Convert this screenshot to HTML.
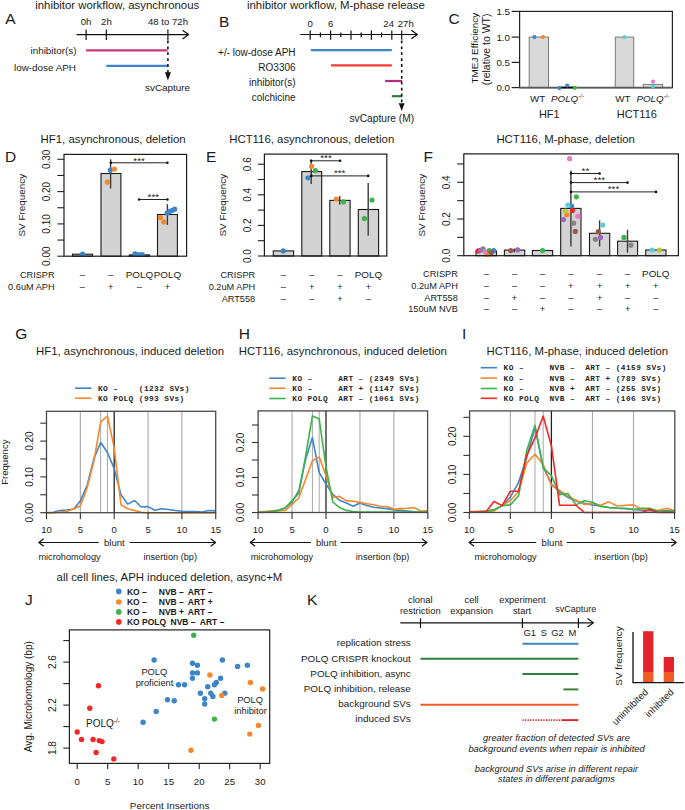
<!DOCTYPE html>
<html><head><meta charset="utf-8"><style>
html,body{margin:0;padding:0;background:#fff;}
svg{display:block;font-family:"Liberation Sans",sans-serif;}
</style></head><body>
<svg width="685" height="810" viewBox="0 0 685 810">
<rect width="685" height="810" fill="#fff"/>
<text x="5.2" y="23.8" font-size="15.5" fill="#1a1a1a">A</text>
<text x="35.2" y="8.8" font-size="11.4" fill="#1a1a1a">inhibitor workflow, asynchronous</text>
<line x1="76.5" y1="34.6" x2="188.2" y2="34.6" stroke="#111" stroke-width="1.2"/>
<polyline points="182.50,30.30 188.60,34.60 182.50,38.90" fill="none" stroke="#111" stroke-width="1.2" stroke-linejoin="round"/>
<line x1="86.1" y1="29.4" x2="86.1" y2="39.9" stroke="#111" stroke-width="1.2"/>
<line x1="106.3" y1="29.4" x2="106.3" y2="39.9" stroke="#111" stroke-width="1.2"/>
<line x1="167.9" y1="29.4" x2="167.9" y2="39.9" stroke="#111" stroke-width="1.2"/>
<text x="86.1" y="25.2" font-size="9.6" text-anchor="middle" fill="#1a1a1a">0h</text>
<text x="106.4" y="25.2" font-size="9.6" text-anchor="middle" fill="#1a1a1a">2h</text>
<text x="168" y="25.2" font-size="9.6" text-anchor="middle" fill="#1a1a1a">48 to 72h</text>
<line x1="86.1" y1="50.4" x2="167.6" y2="50.4" stroke="#c8387e" stroke-width="2.2"/>
<line x1="106.3" y1="65.8" x2="167.6" y2="65.8" stroke="#3d85c6" stroke-width="2.2"/>
<text x="76.6" y="53.5" font-size="9.9" text-anchor="end" fill="#1a1a1a">inhibitor(s)</text>
<text x="76.0" y="70.7" font-size="9.9" text-anchor="end" fill="#1a1a1a">low-dose APH</text>
<line x1="167.9" y1="40.5" x2="167.9" y2="73" stroke="#111" stroke-width="1.6" stroke-dasharray="2.8,3.1"/>
<polygon points="164.9,72.3 171,72.3 167.9,80.4" fill="#111"/>
<text x="167.6" y="91.2" font-size="9.9" text-anchor="middle" fill="#1a1a1a">svCapture</text>
<text x="219.0" y="26.7" font-size="15.5" fill="#1a1a1a">B</text>
<text x="247.0" y="8.8" font-size="11.4" fill="#1a1a1a">inhibitor workflow, M-phase release</text>
<line x1="300.3" y1="34.5" x2="417" y2="34.5" stroke="#111" stroke-width="1.2"/>
<polyline points="411.30,30.20 417.40,34.50 411.30,38.80" fill="none" stroke="#111" stroke-width="1.2" stroke-linejoin="round"/>
<line x1="310.2" y1="30.6" x2="310.2" y2="39.7" stroke="#111" stroke-width="1.2"/>
<line x1="330.59999999999997" y1="30.6" x2="330.59999999999997" y2="39.7" stroke="#111" stroke-width="1.2"/>
<line x1="351.0" y1="30.6" x2="351.0" y2="39.7" stroke="#111" stroke-width="1.2"/>
<line x1="371.4" y1="30.6" x2="371.4" y2="39.7" stroke="#111" stroke-width="1.2"/>
<line x1="391.79999999999995" y1="30.6" x2="391.79999999999995" y2="39.7" stroke="#111" stroke-width="1.2"/>
<line x1="320.4" y1="32.5" x2="320.4" y2="37.2" stroke="#111" stroke-width="1.2"/>
<line x1="340.79999999999995" y1="32.5" x2="340.79999999999995" y2="37.2" stroke="#111" stroke-width="1.2"/>
<line x1="361.2" y1="32.5" x2="361.2" y2="37.2" stroke="#111" stroke-width="1.2"/>
<line x1="381.59999999999997" y1="32.5" x2="381.59999999999997" y2="37.2" stroke="#111" stroke-width="1.2"/>
<line x1="401.7" y1="30.6" x2="401.7" y2="39.7" stroke="#111" stroke-width="1.2"/>
<text x="310.2" y="26.9" font-size="9.6" text-anchor="middle" fill="#1a1a1a">0</text>
<text x="330.7" y="26.9" font-size="9.6" text-anchor="middle" fill="#1a1a1a">6</text>
<text x="388.7" y="26.9" font-size="9.6" text-anchor="middle" fill="#1a1a1a">24</text>
<text x="405.8" y="26.9" font-size="9.6" text-anchor="middle" fill="#1a1a1a">27h</text>
<line x1="310.8" y1="50.1" x2="391.8" y2="50.1" stroke="#3d85c6" stroke-width="2.2"/>
<line x1="331" y1="65.3" x2="391.8" y2="65.3" stroke="#f83a32" stroke-width="2.2"/>
<line x1="385.1" y1="81" x2="402.2" y2="81" stroke="#b0307a" stroke-width="2.2"/>
<line x1="391.8" y1="96.2" x2="402.2" y2="96.2" stroke="#2e7d3a" stroke-width="2.2"/>
<text x="295.6" y="56.2" font-size="10.0" text-anchor="end" fill="#1a1a1a">+/- low-dose APH</text>
<text x="295.6" y="71.4" font-size="10.0" text-anchor="end" fill="#1a1a1a">RO3306</text>
<text x="295.6" y="86.2" font-size="10.0" text-anchor="end" fill="#1a1a1a">inhibitor(s)</text>
<text x="295.6" y="101.0" font-size="10.0" text-anchor="end" fill="#1a1a1a">colchicine</text>
<line x1="401.7" y1="40.5" x2="401.7" y2="104" stroke="#111" stroke-width="1.6" stroke-dasharray="2.8,3.1"/>
<polygon points="398.8,103.3 404.6,103.3 401.7,111" fill="#111"/>
<text x="381.8" y="122.2" font-size="10.2" text-anchor="middle" fill="#1a1a1a">svCapture (M)</text>
<text x="448.4" y="24.4" font-size="15.5" fill="#1a1a1a">C</text>
<rect x="519.6" y="11.4" width="152.8" height="76.2" fill="none" stroke="#222" stroke-width="1.2"/>
<line x1="511.7" y1="11.4" x2="519.6" y2="11.4" stroke="#222" stroke-width="1.2"/>
<text x="510.0" y="15.2" font-size="9.8" text-anchor="end" fill="#1a1a1a">1.5</text>
<line x1="511.7" y1="37.1" x2="519.6" y2="37.1" stroke="#222" stroke-width="1.2"/>
<text x="510.0" y="40.9" font-size="9.8" text-anchor="end" fill="#1a1a1a">1.0</text>
<line x1="511.7" y1="62.4" x2="519.6" y2="62.4" stroke="#222" stroke-width="1.2"/>
<text x="510.0" y="66.2" font-size="9.8" text-anchor="end" fill="#1a1a1a">0.5</text>
<line x1="511.7" y1="87.6" x2="519.6" y2="87.6" stroke="#222" stroke-width="1.2"/>
<text x="510.0" y="91.39999999999999" font-size="9.8" text-anchor="end" fill="#1a1a1a">0.0</text>
<text x="477.7" y="48.1" font-size="9.9" text-anchor="middle" fill="#1a1a1a" transform="rotate(-90 477.7 48.1)">TMEJ Efficiency</text>
<text x="490.3" y="49.4" font-size="10.5" text-anchor="middle" fill="#1a1a1a" transform="rotate(-90 490.3 49.4)">(relative to WT)</text>
<rect x="529.2" y="37.1" width="19.299999999999955" height="50.49999999999999" fill="#d9d9d9" stroke="#7a7a7a" stroke-width="1"/>
<rect x="615.3" y="37.1" width="18.40000000000009" height="50.49999999999999" fill="#d9d9d9" stroke="#7a7a7a" stroke-width="1"/>
<rect x="643.3" y="84.4" width="19.300000000000068" height="3.1999999999999886" fill="#d9d9d9" stroke="#7a7a7a" stroke-width="1"/>
<line x1="519.6" y1="87.6" x2="672.4" y2="87.6" stroke="#5a5a5a" stroke-width="1.9"/>
<line x1="559.5" y1="87.5" x2="575" y2="87.5" stroke="#000" stroke-width="1.6"/>
<circle cx="534.5" cy="37.1" r="2.1" fill="#3d85c6"/>
<circle cx="542.9" cy="37.1" r="2.1" fill="#f5882c"/>
<circle cx="559.5" cy="88.1" r="2.1" fill="#3d85c6"/>
<circle cx="567.2" cy="85.5" r="2.1" fill="#3d85c6"/>
<circle cx="574.8" cy="87.8" r="2.1" fill="#3bb44a"/>
<circle cx="624.6" cy="37.1" r="2.1" fill="#5ccfd6"/>
<circle cx="653" cy="81.6" r="2.1" fill="#e97cc6"/>
<circle cx="653" cy="86.5" r="2.1" fill="#5ccfd6"/>
<text x="537.6" y="102.2" font-size="9.8" text-anchor="middle" fill="#1a1a1a">WT</text>
<text x="551.0" y="102.2" font-size="9.8" font-style="italic" fill="#1a1a1a">POLQ<tspan font-size="6" dy="-4">-/-</tspan></text>
<text x="549.3" y="117.6" font-size="11" text-anchor="middle" fill="#1a1a1a">HF1</text>
<text x="622.8" y="102.2" font-size="9.8" text-anchor="middle" fill="#1a1a1a">WT</text>
<text x="636.4" y="102.2" font-size="9.8" font-style="italic" fill="#1a1a1a">POLQ<tspan font-size="6" dy="-4">-/-</tspan></text>
<text x="636.8" y="117.6" font-size="11" text-anchor="middle" fill="#1a1a1a">HCT116</text>
<text x="5.0" y="161.6" font-size="15.5" fill="#1a1a1a">D</text>
<text x="40.6" y="142.6" font-size="11.4" fill="#1a1a1a">HF1, asynchronous, deletion</text>
<line x1="57.4" y1="256.2" x2="64" y2="256.2" stroke="#222" stroke-width="1.1"/>
<text x="50.1" y="256.2" font-size="10.0" text-anchor="middle" fill="#1a1a1a" transform="rotate(-90 50.1 256.2)">0.00</text>
<line x1="57.4" y1="240.04999999999998" x2="64" y2="240.04999999999998" stroke="#222" stroke-width="1.1"/>
<line x1="57.4" y1="223.89999999999998" x2="64" y2="223.89999999999998" stroke="#222" stroke-width="1.1"/>
<text x="50.1" y="223.89999999999998" font-size="10.0" text-anchor="middle" fill="#1a1a1a" transform="rotate(-90 50.1 223.89999999999998)">0.10</text>
<line x1="57.4" y1="207.75" x2="64" y2="207.75" stroke="#222" stroke-width="1.1"/>
<line x1="57.4" y1="191.59999999999997" x2="64" y2="191.59999999999997" stroke="#222" stroke-width="1.1"/>
<text x="50.1" y="191.59999999999997" font-size="10.0" text-anchor="middle" fill="#1a1a1a" transform="rotate(-90 50.1 191.59999999999997)">0.20</text>
<line x1="57.4" y1="175.45" x2="64" y2="175.45" stroke="#222" stroke-width="1.1"/>
<line x1="57.4" y1="159.3" x2="64" y2="159.3" stroke="#222" stroke-width="1.1"/>
<text x="50.1" y="159.3" font-size="10.0" text-anchor="middle" fill="#1a1a1a" transform="rotate(-90 50.1 159.3)">0.30</text>
<text x="24.900000000000002" y="205.2" font-size="9.9" text-anchor="middle" fill="#1a1a1a" transform="rotate(-90 24.900000000000002 205.2)">SV Frequency</text>
<rect x="72.5" y="254.2" width="20.0" height="2.0" fill="#d3d3d3" stroke="#1a1a1a" stroke-width="1.1"/>
<rect x="101.0" y="173.5" width="19.900000000000006" height="82.69999999999999" fill="#d3d3d3" stroke="#1a1a1a" stroke-width="1.1"/>
<rect x="129.3" y="254.9" width="20.299999999999983" height="1.299999999999983" fill="#d3d3d3" stroke="#1a1a1a" stroke-width="1.1"/>
<rect x="157.5" y="214.5" width="19.900000000000006" height="41.69999999999999" fill="#d3d3d3" stroke="#1a1a1a" stroke-width="1.1"/>
<line x1="110.6" y1="159.3" x2="110.6" y2="188.5" stroke="#3a3a3a" stroke-width="1.4"/>
<line x1="167.4" y1="204.1" x2="167.4" y2="224.9" stroke="#3a3a3a" stroke-width="1.4"/>
<circle cx="82.6" cy="254.2" r="2.6" fill="#3d85c6"/>
<circle cx="107.4" cy="182.2" r="2.6" fill="#f5882c"/>
<circle cx="110.3" cy="170.1" r="2.6" fill="#3d85c6"/>
<circle cx="114.4" cy="169.1" r="2.6" fill="#f5882c"/>
<circle cx="135" cy="253.8" r="2.6" fill="#3d85c6"/>
<circle cx="138.7" cy="254.5" r="2.6" fill="#3d85c6"/>
<circle cx="142.3" cy="254.5" r="2.6" fill="#3d85c6"/>
<circle cx="160.3" cy="217.6" r="2.6" fill="#f5882c"/>
<circle cx="163.8" cy="221.9" r="2.6" fill="#f5882c"/>
<circle cx="167.2" cy="212.9" r="2.6" fill="#3d85c6"/>
<circle cx="169.8" cy="211.4" r="2.6" fill="#3d85c6"/>
<circle cx="172.3" cy="210.3" r="2.6" fill="#3d85c6"/>
<circle cx="174.7" cy="209.2" r="2.6" fill="#3d85c6"/>
<line x1="110.9" y1="162.8" x2="167.4" y2="162.8" stroke="#222" stroke-width="1"/>
<circle cx="110.9" cy="162.8" r="1.3" fill="#111"/>
<circle cx="167.4" cy="162.8" r="1.3" fill="#111"/>
<text x="139.1" y="163.5" font-size="9.8" text-anchor="middle" fill="#1a1a1a">***</text>
<line x1="139.1" y1="199.5" x2="167.4" y2="199.5" stroke="#222" stroke-width="1"/>
<circle cx="139.1" cy="199.5" r="1.3" fill="#111"/>
<circle cx="167.4" cy="199.5" r="1.3" fill="#111"/>
<text x="153.3" y="200.0" font-size="9.8" text-anchor="middle" fill="#1a1a1a">***</text>
<rect x="64" y="154.4" width="122.6" height="101.79999999999998" fill="none" stroke="#1a1a1a" stroke-width="1.2"/>
<text x="54.6" y="278.09999999999997" font-size="9.2" text-anchor="end" fill="#1a1a1a">CRISPR</text>
<text x="82.4" y="278.09999999999997" font-size="9.2" text-anchor="middle" fill="#1a1a1a">–</text>
<text x="110.8" y="278.09999999999997" font-size="9.2" text-anchor="middle" fill="#1a1a1a">–</text>
<text x="139.4" y="278.09999999999997" font-size="9.9" text-anchor="middle" fill="#1a1a1a">POLQ</text>
<text x="167.4" y="278.09999999999997" font-size="9.9" text-anchor="middle" fill="#1a1a1a">POLQ</text>
<text x="54.6" y="289.5" font-size="9.2" text-anchor="end" fill="#1a1a1a">0.6uM APH</text>
<text x="82.4" y="289.5" font-size="9.2" text-anchor="middle" fill="#1a1a1a">–</text>
<text x="110.8" y="289.5" font-size="9.2" text-anchor="middle" fill="#1a1a1a">+</text>
<text x="139.4" y="289.5" font-size="9.2" text-anchor="middle" fill="#1a1a1a">–</text>
<text x="167.4" y="289.5" font-size="9.2" text-anchor="middle" fill="#1a1a1a">+</text>
<text x="205.9" y="161.6" font-size="15.5" fill="#1a1a1a">E</text>
<text x="229.2" y="142.6" font-size="11.4" fill="#1a1a1a">HCT116, asynchronous, deletion</text>
<line x1="257.79999999999995" y1="256.0" x2="264.4" y2="256.0" stroke="#222" stroke-width="1.1"/>
<text x="251.2" y="256.0" font-size="10.0" text-anchor="middle" fill="#1a1a1a" transform="rotate(-90 251.2 256.0)">0.0</text>
<line x1="257.79999999999995" y1="240.7" x2="264.4" y2="240.7" stroke="#222" stroke-width="1.1"/>
<line x1="257.79999999999995" y1="225.4" x2="264.4" y2="225.4" stroke="#222" stroke-width="1.1"/>
<text x="251.2" y="225.4" font-size="10.0" text-anchor="middle" fill="#1a1a1a" transform="rotate(-90 251.2 225.4)">0.2</text>
<line x1="257.79999999999995" y1="210.1" x2="264.4" y2="210.1" stroke="#222" stroke-width="1.1"/>
<line x1="257.79999999999995" y1="194.8" x2="264.4" y2="194.8" stroke="#222" stroke-width="1.1"/>
<text x="251.2" y="194.8" font-size="10.0" text-anchor="middle" fill="#1a1a1a" transform="rotate(-90 251.2 194.8)">0.4</text>
<line x1="257.79999999999995" y1="179.5" x2="264.4" y2="179.5" stroke="#222" stroke-width="1.1"/>
<line x1="257.79999999999995" y1="164.2" x2="264.4" y2="164.2" stroke="#222" stroke-width="1.1"/>
<text x="251.2" y="164.2" font-size="10.0" text-anchor="middle" fill="#1a1a1a" transform="rotate(-90 251.2 164.2)">0.6</text>
<text x="225.70000000000002" y="205.2" font-size="9.9" text-anchor="middle" fill="#1a1a1a" transform="rotate(-90 225.70000000000002 205.2)">SV Frequency</text>
<rect x="273.3" y="250.9" width="20.30000000000001" height="5.099999999999994" fill="#d3d3d3" stroke="#1a1a1a" stroke-width="1.1"/>
<rect x="301.8" y="171.6" width="19.899999999999977" height="84.4" fill="#d3d3d3" stroke="#1a1a1a" stroke-width="1.1"/>
<rect x="329.8" y="200.4" width="20.30000000000001" height="55.599999999999994" fill="#d3d3d3" stroke="#1a1a1a" stroke-width="1.1"/>
<rect x="358.3" y="209.5" width="20.30000000000001" height="46.5" fill="#d3d3d3" stroke="#1a1a1a" stroke-width="1.1"/>
<line x1="311.2" y1="159.8" x2="311.2" y2="183.9" stroke="#3a3a3a" stroke-width="1.4"/>
<line x1="339.7" y1="195.9" x2="339.7" y2="204.8" stroke="#3a3a3a" stroke-width="1.4"/>
<line x1="368.2" y1="183" x2="368.2" y2="235.7" stroke="#3a3a3a" stroke-width="1.4"/>
<circle cx="283.2" cy="250.9" r="2.6" fill="#3d85c6"/>
<circle cx="311.6" cy="166.3" r="2.6" fill="#f5882c"/>
<circle cx="315.4" cy="170.6" r="2.6" fill="#3bb44a"/>
<circle cx="308" cy="177.8" r="2.6" fill="#3d85c6"/>
<circle cx="336.3" cy="199.1" r="2.6" fill="#f5882c"/>
<circle cx="343.5" cy="201.9" r="2.6" fill="#3bb44a"/>
<circle cx="372" cy="200" r="2.6" fill="#3bb44a"/>
<circle cx="364.4" cy="218.6" r="2.6" fill="#3bb44a"/>
<line x1="311.2" y1="160.8" x2="340.1" y2="160.8" stroke="#222" stroke-width="1"/>
<circle cx="311.2" cy="160.8" r="1.3" fill="#111"/>
<circle cx="340.1" cy="160.8" r="1.3" fill="#111"/>
<text x="326" y="161.0" font-size="9.8" text-anchor="middle" fill="#1a1a1a">***</text>
<line x1="311.2" y1="175.9" x2="368.2" y2="175.9" stroke="#222" stroke-width="1"/>
<circle cx="311.2" cy="175.9" r="1.3" fill="#111"/>
<circle cx="368.2" cy="175.9" r="1.3" fill="#111"/>
<text x="339.7" y="176.2" font-size="9.8" text-anchor="middle" fill="#1a1a1a">***</text>
<rect x="264.4" y="154.1" width="122.40000000000003" height="101.9" fill="none" stroke="#1a1a1a" stroke-width="1.2"/>
<text x="255.2" y="277.9" font-size="9.2" text-anchor="end" fill="#1a1a1a">CRISPR</text>
<text x="283.4" y="277.9" font-size="9.2" text-anchor="middle" fill="#1a1a1a">–</text>
<text x="311.8" y="277.9" font-size="9.2" text-anchor="middle" fill="#1a1a1a">–</text>
<text x="340" y="277.9" font-size="9.2" text-anchor="middle" fill="#1a1a1a">–</text>
<text x="368.5" y="277.9" font-size="9.9" text-anchor="middle" fill="#1a1a1a">POLQ</text>
<text x="255.2" y="290.0" font-size="9.2" text-anchor="end" fill="#1a1a1a">0.2uM APH</text>
<text x="283.4" y="290.0" font-size="9.2" text-anchor="middle" fill="#1a1a1a">–</text>
<text x="311.8" y="290.0" font-size="9.2" text-anchor="middle" fill="#1a1a1a">+</text>
<text x="340" y="290.0" font-size="9.2" text-anchor="middle" fill="#1a1a1a">+</text>
<text x="368.5" y="290.0" font-size="9.2" text-anchor="middle" fill="#1a1a1a">+</text>
<text x="255.2" y="301.79999999999995" font-size="9.2" text-anchor="end" fill="#1a1a1a">ART558</text>
<text x="283.4" y="301.79999999999995" font-size="9.2" text-anchor="middle" fill="#1a1a1a">–</text>
<text x="311.8" y="301.79999999999995" font-size="9.2" text-anchor="middle" fill="#1a1a1a">–</text>
<text x="340" y="301.79999999999995" font-size="9.2" text-anchor="middle" fill="#1a1a1a">+</text>
<text x="368.5" y="301.79999999999995" font-size="9.2" text-anchor="middle" fill="#1a1a1a">–</text>
<text x="423.6" y="161.6" font-size="15.5" fill="#1a1a1a">F</text>
<text x="496.4" y="142.6" font-size="11.4" fill="#1a1a1a">HCT116, M-phase, deletion</text>
<line x1="457.2" y1="255.7" x2="463.8" y2="255.7" stroke="#222" stroke-width="1.1"/>
<text x="450.2" y="255.7" font-size="10.0" text-anchor="middle" fill="#1a1a1a" transform="rotate(-90 450.2 255.7)">0.0</text>
<line x1="457.2" y1="237.35" x2="463.8" y2="237.35" stroke="#222" stroke-width="1.1"/>
<line x1="457.2" y1="219.0" x2="463.8" y2="219.0" stroke="#222" stroke-width="1.1"/>
<text x="450.2" y="219.0" font-size="10.0" text-anchor="middle" fill="#1a1a1a" transform="rotate(-90 450.2 219.0)">0.2</text>
<line x1="457.2" y1="200.64999999999998" x2="463.8" y2="200.64999999999998" stroke="#222" stroke-width="1.1"/>
<line x1="457.2" y1="182.29999999999998" x2="463.8" y2="182.29999999999998" stroke="#222" stroke-width="1.1"/>
<text x="450.2" y="182.29999999999998" font-size="10.0" text-anchor="middle" fill="#1a1a1a" transform="rotate(-90 450.2 182.29999999999998)">0.4</text>
<line x1="457.2" y1="163.95" x2="463.8" y2="163.95" stroke="#222" stroke-width="1.1"/>
<text x="424.7" y="205.2" font-size="9.9" text-anchor="middle" fill="#1a1a1a" transform="rotate(-90 424.7 205.2)">SV Frequency</text>
<rect x="476" y="251" width="20.5" height="4.699999999999989" fill="#d3d3d3" stroke="#1a1a1a" stroke-width="1.1"/>
<rect x="504.4" y="250.1" width="20.300000000000068" height="5.599999999999994" fill="#d3d3d3" stroke="#1a1a1a" stroke-width="1.1"/>
<rect x="532.4" y="250.5" width="20.200000000000045" height="5.199999999999989" fill="#d3d3d3" stroke="#1a1a1a" stroke-width="1.1"/>
<rect x="560.7" y="208.4" width="20.299999999999955" height="47.29999999999998" fill="#d3d3d3" stroke="#1a1a1a" stroke-width="1.1"/>
<rect x="589.5" y="233.3" width="20.200000000000045" height="22.399999999999977" fill="#d3d3d3" stroke="#1a1a1a" stroke-width="1.1"/>
<rect x="617.6" y="241.2" width="20.0" height="14.5" fill="#d3d3d3" stroke="#1a1a1a" stroke-width="1.1"/>
<rect x="645.7" y="250" width="20.299999999999955" height="5.699999999999989" fill="#d3d3d3" stroke="#1a1a1a" stroke-width="1.1"/>
<line x1="570.9" y1="170.5" x2="570.9" y2="246.4" stroke="#3a3a3a" stroke-width="1.4"/>
<line x1="599.6" y1="220.3" x2="599.6" y2="246.5" stroke="#3a3a3a" stroke-width="1.4"/>
<line x1="627.5" y1="229.8" x2="627.5" y2="252.6" stroke="#3a3a3a" stroke-width="1.4"/>
<line x1="514.3" y1="248.5" x2="514.3" y2="252.5" stroke="#3a3a3a" stroke-width="1.4"/>
<circle cx="478.1" cy="250.9" r="2.6" fill="#f42626"/>
<circle cx="486.9" cy="254.4" r="2.6" fill="#f5882c"/>
<circle cx="480.3" cy="250.3" r="2.6" fill="#a162c4"/>
<circle cx="483" cy="248.8" r="2.6" fill="#858585"/>
<circle cx="485.1" cy="251.6" r="2.6" fill="#e97cc6"/>
<circle cx="489.3" cy="250.5" r="2.6" fill="#3bb44a"/>
<circle cx="493.7" cy="250.7" r="2.6" fill="#3d85c6"/>
<circle cx="491.3" cy="252.5" r="2.6" fill="#9a5a4a"/>
<circle cx="510.7" cy="250.6" r="2.6" fill="#9a5a4a"/>
<circle cx="517.7" cy="249.8" r="2.6" fill="#a162c4"/>
<circle cx="542.6" cy="250.6" r="2.6" fill="#3bb44a"/>
<circle cx="569.6" cy="158.7" r="2.6" fill="#e97cc6"/>
<circle cx="576.4" cy="196.8" r="2.6" fill="#3bb44a"/>
<circle cx="571.7" cy="206.1" r="2.6" fill="#3d85c6"/>
<circle cx="567.9" cy="205.2" r="2.6" fill="#5ccfd6"/>
<circle cx="572.5" cy="210.5" r="2.6" fill="#f42626"/>
<circle cx="566.8" cy="214.7" r="2.6" fill="#f5882c"/>
<circle cx="565.4" cy="211" r="2.6" fill="#bcc832"/>
<circle cx="577.8" cy="216.2" r="2.6" fill="#e97cc6"/>
<circle cx="563.5" cy="219.6" r="2.6" fill="#a162c4"/>
<circle cx="573.6" cy="223.2" r="2.6" fill="#858585"/>
<circle cx="575.3" cy="231.4" r="2.6" fill="#9a5a4a"/>
<circle cx="602.8" cy="225.1" r="2.6" fill="#5ccfd6"/>
<circle cx="598.3" cy="231.7" r="2.6" fill="#9a5a4a"/>
<circle cx="600.5" cy="237.4" r="2.6" fill="#a162c4"/>
<circle cx="595.4" cy="239.3" r="2.6" fill="#858585"/>
<circle cx="623.9" cy="237.4" r="2.6" fill="#3bb44a"/>
<circle cx="630.9" cy="245.2" r="2.6" fill="#858585"/>
<circle cx="652.2" cy="250" r="2.6" fill="#5ccfd6"/>
<circle cx="659.4" cy="250" r="2.6" fill="#bcc832"/>
<line x1="571" y1="173.5" x2="599.6" y2="173.5" stroke="#222" stroke-width="1"/>
<circle cx="571" cy="173.5" r="1.3" fill="#111"/>
<circle cx="599.6" cy="173.5" r="1.3" fill="#111"/>
<text x="585.4" y="173.7" font-size="9.8" text-anchor="middle" fill="#1a1a1a">**</text>
<line x1="571" y1="182.6" x2="627.5" y2="182.6" stroke="#222" stroke-width="1"/>
<circle cx="571" cy="182.6" r="1.3" fill="#111"/>
<circle cx="627.5" cy="182.6" r="1.3" fill="#111"/>
<text x="599.3" y="183.2" font-size="9.8" text-anchor="middle" fill="#1a1a1a">***</text>
<line x1="571" y1="191.9" x2="656" y2="191.9" stroke="#222" stroke-width="1"/>
<circle cx="571" cy="191.9" r="1.3" fill="#111"/>
<circle cx="656" cy="191.9" r="1.3" fill="#111"/>
<text x="613.5" y="192.29999999999998" font-size="9.8" text-anchor="middle" fill="#1a1a1a">***</text>
<rect x="463.8" y="153.9" width="214.59999999999997" height="101.79999999999998" fill="none" stroke="#1a1a1a" stroke-width="1.2"/>
<text x="457.8" y="277.09999999999997" font-size="9.2" text-anchor="end" fill="#1a1a1a">CRISPR</text>
<text x="486.3" y="277.09999999999997" font-size="9.2" text-anchor="middle" fill="#1a1a1a">–</text>
<text x="514.5" y="277.09999999999997" font-size="9.2" text-anchor="middle" fill="#1a1a1a">–</text>
<text x="542.5" y="277.09999999999997" font-size="9.2" text-anchor="middle" fill="#1a1a1a">–</text>
<text x="570.8" y="277.09999999999997" font-size="9.2" text-anchor="middle" fill="#1a1a1a">–</text>
<text x="599.6" y="277.09999999999997" font-size="9.2" text-anchor="middle" fill="#1a1a1a">–</text>
<text x="627.6" y="277.09999999999997" font-size="9.2" text-anchor="middle" fill="#1a1a1a">–</text>
<text x="655.8" y="277.09999999999997" font-size="9.9" text-anchor="middle" fill="#1a1a1a">POLQ</text>
<text x="457.8" y="288.79999999999995" font-size="9.2" text-anchor="end" fill="#1a1a1a">0.2uM APH</text>
<text x="486.3" y="288.79999999999995" font-size="9.2" text-anchor="middle" fill="#1a1a1a">–</text>
<text x="514.5" y="288.79999999999995" font-size="9.2" text-anchor="middle" fill="#1a1a1a">–</text>
<text x="542.5" y="288.79999999999995" font-size="9.2" text-anchor="middle" fill="#1a1a1a">–</text>
<text x="570.8" y="288.79999999999995" font-size="9.2" text-anchor="middle" fill="#1a1a1a">+</text>
<text x="599.6" y="288.79999999999995" font-size="9.2" text-anchor="middle" fill="#1a1a1a">+</text>
<text x="627.6" y="288.79999999999995" font-size="9.2" text-anchor="middle" fill="#1a1a1a">+</text>
<text x="655.8" y="288.79999999999995" font-size="9.2" text-anchor="middle" fill="#1a1a1a">+</text>
<text x="457.8" y="300.7" font-size="9.2" text-anchor="end" fill="#1a1a1a">ART558</text>
<text x="486.3" y="300.7" font-size="9.2" text-anchor="middle" fill="#1a1a1a">–</text>
<text x="514.5" y="300.7" font-size="9.2" text-anchor="middle" fill="#1a1a1a">+</text>
<text x="542.5" y="300.7" font-size="9.2" text-anchor="middle" fill="#1a1a1a">–</text>
<text x="570.8" y="300.7" font-size="9.2" text-anchor="middle" fill="#1a1a1a">–</text>
<text x="599.6" y="300.7" font-size="9.2" text-anchor="middle" fill="#1a1a1a">+</text>
<text x="627.6" y="300.7" font-size="9.2" text-anchor="middle" fill="#1a1a1a">–</text>
<text x="655.8" y="300.7" font-size="9.2" text-anchor="middle" fill="#1a1a1a">–</text>
<text x="457.8" y="312.4" font-size="9.2" text-anchor="end" fill="#1a1a1a">150uM NVB</text>
<text x="486.3" y="312.4" font-size="9.2" text-anchor="middle" fill="#1a1a1a">–</text>
<text x="514.5" y="312.4" font-size="9.2" text-anchor="middle" fill="#1a1a1a">–</text>
<text x="542.5" y="312.4" font-size="9.2" text-anchor="middle" fill="#1a1a1a">+</text>
<text x="570.8" y="312.4" font-size="9.2" text-anchor="middle" fill="#1a1a1a">–</text>
<text x="599.6" y="312.4" font-size="9.2" text-anchor="middle" fill="#1a1a1a">–</text>
<text x="627.6" y="312.4" font-size="9.2" text-anchor="middle" fill="#1a1a1a">+</text>
<text x="655.8" y="312.4" font-size="9.2" text-anchor="middle" fill="#1a1a1a">–</text>
<text x="15.3" y="338.7" font-size="15.5" fill="#1a1a1a">G</text>
<text x="36.0" y="354.8" font-size="11.4" fill="#1a1a1a">HF1, asynchronous, induced deletion</text>
<line x1="80.35000000000001" y1="411.3" x2="80.35000000000001" y2="512.7" stroke="#a8a8a8" stroke-width="1.1"/>
<line x1="100.66" y1="411.3" x2="100.66" y2="512.7" stroke="#a8a8a8" stroke-width="1.0"/>
<line x1="107.43" y1="411.3" x2="107.43" y2="512.7" stroke="#a8a8a8" stroke-width="1.0"/>
<line x1="148.05" y1="411.3" x2="148.05" y2="512.7" stroke="#a8a8a8" stroke-width="1.1"/>
<line x1="181.89999999999998" y1="411.3" x2="181.89999999999998" y2="512.7" stroke="#a8a8a8" stroke-width="1.1"/>
<line x1="114.2" y1="411.3" x2="114.2" y2="512.7" stroke="#222" stroke-width="1.3"/>
<polyline points="46.50,512.70 53.27,512.20 60.04,510.44 66.81,509.94 73.58,509.23 80.35,500.89 87.12,485.49 93.89,458.64 100.66,442.53 107.43,452.56 114.20,468.67 120.97,494.80 127.74,504.11 134.51,500.53 141.28,506.97 148.05,506.61 154.82,510.19 161.59,508.76 168.36,509.48 175.13,510.55 181.90,511.27 188.67,511.63 195.44,511.63 202.21,511.98 208.98,510.55 215.75,510.91" fill="none" stroke="#3d85c6" stroke-width="1.6" stroke-linejoin="round"/>
<polyline points="46.50,512.70 53.27,512.70 60.04,512.16 66.81,511.63 73.58,508.76 80.35,505.90 87.12,488.00 93.89,461.15 100.66,421.77 107.43,416.04 114.20,447.90 120.97,504.82 127.74,508.76 134.51,510.55 141.28,512.34 148.05,512.70 154.82,512.70 161.59,512.70 168.36,512.70 175.13,512.70 181.90,512.70 188.67,512.70 195.44,512.70 202.21,512.70 208.98,512.70 215.75,512.70" fill="none" stroke="#f5882c" stroke-width="1.6" stroke-linejoin="round"/>
<rect x="46.5" y="411.3" width="169.2" height="101.40000000000003" fill="none" stroke="#4a4a4a" stroke-width="1.3"/>
<line x1="40.3" y1="512.7" x2="46.5" y2="512.7" stroke="#333" stroke-width="1.1"/>
<line x1="40.3" y1="494.80000000000007" x2="46.5" y2="494.80000000000007" stroke="#333" stroke-width="1.1"/>
<line x1="40.3" y1="476.90000000000003" x2="46.5" y2="476.90000000000003" stroke="#333" stroke-width="1.1"/>
<line x1="40.3" y1="459.00000000000006" x2="46.5" y2="459.00000000000006" stroke="#333" stroke-width="1.1"/>
<line x1="40.3" y1="441.1" x2="46.5" y2="441.1" stroke="#333" stroke-width="1.1"/>
<line x1="40.3" y1="423.20000000000005" x2="46.5" y2="423.20000000000005" stroke="#333" stroke-width="1.1"/>
<text x="32.6" y="512.7" font-size="10.0" text-anchor="middle" fill="#1a1a1a" transform="rotate(-90 32.6 512.7)">0.00</text>
<text x="32.6" y="476.90000000000003" font-size="10.0" text-anchor="middle" fill="#1a1a1a" transform="rotate(-90 32.6 476.90000000000003)">0.10</text>
<text x="32.6" y="441.1" font-size="10.0" text-anchor="middle" fill="#1a1a1a" transform="rotate(-90 32.6 441.1)">0.20</text>
<line x1="46.500000000000014" y1="512.7" x2="46.500000000000014" y2="519.3000000000001" stroke="#333" stroke-width="1.1"/>
<text x="46.500000000000014" y="532.7" font-size="9.6" text-anchor="middle" fill="#1a1a1a">10</text>
<line x1="80.35000000000001" y1="512.7" x2="80.35000000000001" y2="519.3000000000001" stroke="#333" stroke-width="1.1"/>
<text x="80.35000000000001" y="532.7" font-size="9.6" text-anchor="middle" fill="#1a1a1a">5</text>
<line x1="114.2" y1="512.7" x2="114.2" y2="519.3000000000001" stroke="#333" stroke-width="1.1"/>
<text x="114.2" y="532.7" font-size="9.6" text-anchor="middle" fill="#1a1a1a">0</text>
<line x1="148.05" y1="512.7" x2="148.05" y2="519.3000000000001" stroke="#333" stroke-width="1.1"/>
<text x="148.05" y="532.7" font-size="9.6" text-anchor="middle" fill="#1a1a1a">5</text>
<line x1="181.89999999999998" y1="512.7" x2="181.89999999999998" y2="519.3000000000001" stroke="#333" stroke-width="1.1"/>
<text x="181.89999999999998" y="532.7" font-size="9.6" text-anchor="middle" fill="#1a1a1a">10</text>
<line x1="215.75" y1="512.7" x2="215.75" y2="519.3000000000001" stroke="#333" stroke-width="1.1"/>
<text x="215.75" y="532.7" font-size="9.6" text-anchor="middle" fill="#1a1a1a">15</text>
<line x1="39.599999999999994" y1="542.5" x2="98.7" y2="542.5" stroke="#111" stroke-width="1.2"/>
<line x1="129.6" y1="542.5" x2="214.79999999999998" y2="542.5" stroke="#111" stroke-width="1.2"/>
<polyline points="43.70,538.70 38.80,542.50 43.70,546.30" fill="none" stroke="#111" stroke-width="1.2" stroke-linejoin="round"/>
<polyline points="210.70,538.70 215.60,542.50 210.70,546.30" fill="none" stroke="#111" stroke-width="1.2" stroke-linejoin="round"/>
<text x="114.35" y="545.9" font-size="9.6" text-anchor="middle" fill="#1a1a1a">blunt</text>
<text x="38.4" y="559.6" font-size="9.2" fill="#1a1a1a">microhomology</text>
<text x="197.0" y="559.6" font-size="9.2" text-anchor="end" fill="#1a1a1a">insertion (bp)</text>
<line x1="75.1" y1="388.2" x2="91.5" y2="388.2" stroke="#3d85c6" stroke-width="1.6"/>
<text x="98.0" y="390.8" font-size="7.8" font-weight="bold" font-family="Liberation Mono" fill="#262626" letter-spacing="0.42" xml:space="preserve">KO –    (1232 SVs)</text>
<line x1="75.1" y1="398.2" x2="91.5" y2="398.2" stroke="#f5882c" stroke-width="1.6"/>
<text x="98.0" y="400.8" font-size="7.8" font-weight="bold" font-family="Liberation Mono" fill="#262626" letter-spacing="0.42" xml:space="preserve">KO POLQ (993 SVs)</text>
<text x="8.0" y="462.2" font-size="9.6" text-anchor="middle" fill="#1a1a1a" transform="rotate(-90 8.0 462.2)">Frequency</text>
<text x="238.8" y="338.7" font-size="15.5" fill="#1a1a1a">H</text>
<text x="238.8" y="354.8" font-size="11.4" fill="#1a1a1a">HCT116, asynchronous, induced deletion</text>
<line x1="292.05" y1="410.9" x2="292.05" y2="512.5" stroke="#a8a8a8" stroke-width="1.1"/>
<line x1="312.42" y1="410.9" x2="312.42" y2="512.5" stroke="#a8a8a8" stroke-width="1.0"/>
<line x1="319.21" y1="410.9" x2="319.21" y2="512.5" stroke="#a8a8a8" stroke-width="1.0"/>
<line x1="359.95" y1="410.9" x2="359.95" y2="512.5" stroke="#a8a8a8" stroke-width="1.1"/>
<line x1="393.9" y1="410.9" x2="393.9" y2="512.5" stroke="#a8a8a8" stroke-width="1.1"/>
<line x1="326.0" y1="410.9" x2="326.0" y2="512.5" stroke="#222" stroke-width="1.3"/>
<polyline points="258.10,512.22 264.89,511.80 271.68,511.10 278.47,510.40 285.26,507.77 292.05,502.14 298.84,490.59 305.63,459.30 312.42,437.60 319.21,472.60 326.00,484.15 332.79,494.30 339.58,500.25 346.37,503.05 353.16,506.20 359.95,503.05 366.74,505.50 373.53,507.25 380.32,507.95 387.11,508.65 393.90,510.05 400.69,510.40 407.48,511.10 414.27,511.80 421.06,512.15 427.85,511.80" fill="none" stroke="#3d85c6" stroke-width="1.6" stroke-linejoin="round"/>
<polyline points="258.10,511.80 264.89,511.45 271.68,511.10 278.47,510.75 285.26,510.40 292.05,504.45 298.84,497.80 305.63,479.25 312.42,460.70 319.21,456.85 326.00,475.75 332.79,497.45 339.58,496.40 346.37,500.60 353.16,501.30 359.95,502.35 366.74,503.75 373.53,504.80 380.32,506.20 387.11,506.55 393.90,509.35 400.69,508.65 407.48,508.30 414.27,507.60 421.06,511.10 427.85,510.75" fill="none" stroke="#f5882c" stroke-width="1.6" stroke-linejoin="round"/>
<polyline points="258.10,512.50 264.89,512.15 271.68,511.80 278.47,510.40 285.26,507.95 292.05,500.60 298.84,493.25 305.63,456.15 312.42,415.90 319.21,419.05 326.00,467.00 332.79,502.00 339.58,507.60 346.37,510.40 353.16,511.45 359.95,512.15 366.74,512.15 373.53,512.15 380.32,512.15 387.11,512.15 393.90,512.15 400.69,512.15 407.48,512.15 414.27,512.15 421.06,512.15 427.85,512.15" fill="none" stroke="#3bb44a" stroke-width="1.6" stroke-linejoin="round"/>
<rect x="258.1" y="410.9" width="169.5" height="101.60000000000002" fill="none" stroke="#4a4a4a" stroke-width="1.3"/>
<line x1="251.90000000000003" y1="512.5" x2="258.1" y2="512.5" stroke="#333" stroke-width="1.1"/>
<line x1="251.90000000000003" y1="495.0" x2="258.1" y2="495.0" stroke="#333" stroke-width="1.1"/>
<line x1="251.90000000000003" y1="477.5" x2="258.1" y2="477.5" stroke="#333" stroke-width="1.1"/>
<line x1="251.90000000000003" y1="460.0" x2="258.1" y2="460.0" stroke="#333" stroke-width="1.1"/>
<line x1="251.90000000000003" y1="442.5" x2="258.1" y2="442.5" stroke="#333" stroke-width="1.1"/>
<line x1="251.90000000000003" y1="425.0" x2="258.1" y2="425.0" stroke="#333" stroke-width="1.1"/>
<text x="244.2" y="512.5" font-size="10.0" text-anchor="middle" fill="#1a1a1a" transform="rotate(-90 244.2 512.5)">0.00</text>
<text x="244.2" y="477.5" font-size="10.0" text-anchor="middle" fill="#1a1a1a" transform="rotate(-90 244.2 477.5)">0.10</text>
<text x="244.2" y="442.5" font-size="10.0" text-anchor="middle" fill="#1a1a1a" transform="rotate(-90 244.2 442.5)">0.20</text>
<line x1="258.1" y1="512.5" x2="258.1" y2="519.1" stroke="#333" stroke-width="1.1"/>
<text x="258.1" y="532.7" font-size="9.6" text-anchor="middle" fill="#1a1a1a">10</text>
<line x1="292.05" y1="512.5" x2="292.05" y2="519.1" stroke="#333" stroke-width="1.1"/>
<text x="292.05" y="532.7" font-size="9.6" text-anchor="middle" fill="#1a1a1a">5</text>
<line x1="326.0" y1="512.5" x2="326.0" y2="519.1" stroke="#333" stroke-width="1.1"/>
<text x="326.0" y="532.7" font-size="9.6" text-anchor="middle" fill="#1a1a1a">0</text>
<line x1="359.95" y1="512.5" x2="359.95" y2="519.1" stroke="#333" stroke-width="1.1"/>
<text x="359.95" y="532.7" font-size="9.6" text-anchor="middle" fill="#1a1a1a">5</text>
<line x1="393.9" y1="512.5" x2="393.9" y2="519.1" stroke="#333" stroke-width="1.1"/>
<text x="393.9" y="532.7" font-size="9.6" text-anchor="middle" fill="#1a1a1a">10</text>
<line x1="427.85" y1="512.5" x2="427.85" y2="519.1" stroke="#333" stroke-width="1.1"/>
<text x="427.85" y="532.7" font-size="9.6" text-anchor="middle" fill="#1a1a1a">15</text>
<line x1="251.0" y1="542.5" x2="311.0" y2="542.5" stroke="#111" stroke-width="1.2"/>
<line x1="340.7" y1="542.5" x2="426.09999999999997" y2="542.5" stroke="#111" stroke-width="1.2"/>
<polyline points="255.10,538.70 250.20,542.50 255.10,546.30" fill="none" stroke="#111" stroke-width="1.2" stroke-linejoin="round"/>
<polyline points="422.00,538.70 426.90,542.50 422.00,546.30" fill="none" stroke="#111" stroke-width="1.2" stroke-linejoin="round"/>
<text x="326.3" y="545.9" font-size="9.6" text-anchor="middle" fill="#1a1a1a">blunt</text>
<text x="250.7" y="559.6" font-size="9.2" fill="#1a1a1a">microhomology</text>
<text x="409.4" y="559.6" font-size="9.2" text-anchor="end" fill="#1a1a1a">insertion (bp)</text>
<line x1="269.2" y1="378.2" x2="285.6" y2="378.2" stroke="#3d85c6" stroke-width="1.6"/>
<text x="292.3" y="380.8" font-size="7.8" font-weight="bold" font-family="Liberation Mono" fill="#262626" letter-spacing="0.42" xml:space="preserve">KO –     ART – (2349 SVs)</text>
<line x1="269.2" y1="388.2" x2="285.6" y2="388.2" stroke="#f5882c" stroke-width="1.6"/>
<text x="292.3" y="390.8" font-size="7.8" font-weight="bold" font-family="Liberation Mono" fill="#262626" letter-spacing="0.42" xml:space="preserve">KO –     ART + (1147 SVs)</text>
<line x1="269.2" y1="398.5" x2="285.6" y2="398.5" stroke="#3bb44a" stroke-width="1.6"/>
<text x="292.3" y="401.1" font-size="7.8" font-weight="bold" font-family="Liberation Mono" fill="#262626" letter-spacing="0.42" xml:space="preserve">KO POLQ  ART – (1061 SVs)</text>
<text x="461.9" y="338.7" font-size="15.5" fill="#1a1a1a">I</text>
<text x="486.6" y="354.8" font-size="11.4" fill="#1a1a1a">HCT116, M-phase, induced deletion</text>
<line x1="510.34999999999997" y1="410.9" x2="510.34999999999997" y2="512.5" stroke="#a8a8a8" stroke-width="1.1"/>
<line x1="534.98" y1="410.9" x2="534.98" y2="512.5" stroke="#a8a8a8" stroke-width="1.0"/>
<line x1="543.1899999999999" y1="410.9" x2="543.1899999999999" y2="512.5" stroke="#a8a8a8" stroke-width="1.0"/>
<line x1="592.4499999999999" y1="410.9" x2="592.4499999999999" y2="512.5" stroke="#a8a8a8" stroke-width="1.1"/>
<line x1="633.5" y1="410.9" x2="633.5" y2="512.5" stroke="#a8a8a8" stroke-width="1.1"/>
<line x1="551.4" y1="410.9" x2="551.4" y2="512.5" stroke="#222" stroke-width="1.3"/>
<polyline points="469.30,512.12 477.51,511.74 485.72,511.36 493.93,509.84 502.14,505.65 510.35,497.27 518.56,482.42 526.77,456.92 534.98,427.60 543.19,467.20 551.40,483.95 559.61,491.94 567.82,497.27 576.03,501.08 584.24,503.36 592.45,504.89 600.66,506.03 608.87,507.55 617.08,508.31 625.29,508.69 633.50,509.45 641.71,510.22 649.92,510.60 658.13,511.36 666.34,510.60 674.55,510.98" fill="none" stroke="#3d85c6" stroke-width="1.6" stroke-linejoin="round"/>
<polyline points="469.30,511.74 477.51,511.36 485.72,511.36 493.93,510.98 502.14,505.65 510.35,500.70 518.56,491.56 526.77,463.01 534.98,454.25 543.19,464.53 551.40,485.47 559.61,490.42 567.82,496.13 576.03,500.32 584.24,504.51 592.45,503.36 600.66,505.27 608.87,501.84 617.08,506.03 625.29,505.27 633.50,504.89 641.71,509.45 649.92,509.45 658.13,510.60 666.34,508.31 674.55,510.60" fill="none" stroke="#f5882c" stroke-width="1.6" stroke-linejoin="round"/>
<polyline points="469.30,512.12 477.51,511.74 485.72,511.36 493.93,509.84 502.14,505.65 510.35,504.89 518.56,495.75 526.77,450.45 534.98,425.32 543.19,467.96 551.40,475.57 559.61,494.61 567.82,493.46 576.03,504.89 584.24,500.70 592.45,502.22 600.66,506.41 608.87,507.55 617.08,508.31 625.29,508.31 633.50,509.45 641.71,508.31 649.92,508.31 658.13,511.36 666.34,511.36 674.55,511.36" fill="none" stroke="#3bb44a" stroke-width="1.6" stroke-linejoin="round"/>
<polyline points="469.30,512.12 477.51,512.12 485.72,512.12 493.93,501.46 502.14,505.65 510.35,491.18 518.56,491.18 526.77,455.39 534.98,437.88 543.19,416.18 551.40,445.88 559.61,505.27 567.82,505.27 576.03,505.27 584.24,512.50 592.45,512.50 600.66,512.50 608.87,512.50 617.08,512.50 625.29,512.50 633.50,512.50 641.71,512.50 649.92,509.45 658.13,512.50 666.34,512.50 674.55,512.50" fill="none" stroke="#f42626" stroke-width="1.6" stroke-linejoin="round"/>
<rect x="469.6" y="410.9" width="205.19999999999993" height="101.60000000000002" fill="none" stroke="#4a4a4a" stroke-width="1.3"/>
<line x1="463.40000000000003" y1="512.5" x2="469.6" y2="512.5" stroke="#333" stroke-width="1.1"/>
<line x1="463.40000000000003" y1="493.465" x2="469.6" y2="493.465" stroke="#333" stroke-width="1.1"/>
<line x1="463.40000000000003" y1="474.43" x2="469.6" y2="474.43" stroke="#333" stroke-width="1.1"/>
<line x1="463.40000000000003" y1="455.395" x2="469.6" y2="455.395" stroke="#333" stroke-width="1.1"/>
<line x1="463.40000000000003" y1="436.36" x2="469.6" y2="436.36" stroke="#333" stroke-width="1.1"/>
<line x1="463.40000000000003" y1="417.325" x2="469.6" y2="417.325" stroke="#333" stroke-width="1.1"/>
<text x="455.7" y="512.5" font-size="10.0" text-anchor="middle" fill="#1a1a1a" transform="rotate(-90 455.7 512.5)">0.00</text>
<text x="455.7" y="474.43" font-size="10.0" text-anchor="middle" fill="#1a1a1a" transform="rotate(-90 455.7 474.43)">0.10</text>
<text x="455.7" y="436.36" font-size="10.0" text-anchor="middle" fill="#1a1a1a" transform="rotate(-90 455.7 436.36)">0.20</text>
<line x1="469.29999999999995" y1="512.5" x2="469.29999999999995" y2="519.1" stroke="#333" stroke-width="1.1"/>
<text x="469.29999999999995" y="532.7" font-size="9.6" text-anchor="middle" fill="#1a1a1a">10</text>
<line x1="510.34999999999997" y1="512.5" x2="510.34999999999997" y2="519.1" stroke="#333" stroke-width="1.1"/>
<text x="510.34999999999997" y="532.7" font-size="9.6" text-anchor="middle" fill="#1a1a1a">5</text>
<line x1="551.4" y1="512.5" x2="551.4" y2="519.1" stroke="#333" stroke-width="1.1"/>
<text x="551.4" y="532.7" font-size="9.6" text-anchor="middle" fill="#1a1a1a">0</text>
<line x1="592.4499999999999" y1="512.5" x2="592.4499999999999" y2="519.1" stroke="#333" stroke-width="1.1"/>
<text x="592.4499999999999" y="532.7" font-size="9.6" text-anchor="middle" fill="#1a1a1a">5</text>
<line x1="633.5" y1="512.5" x2="633.5" y2="519.1" stroke="#333" stroke-width="1.1"/>
<text x="633.5" y="532.7" font-size="9.6" text-anchor="middle" fill="#1a1a1a">10</text>
<line x1="674.55" y1="512.5" x2="674.55" y2="519.1" stroke="#333" stroke-width="1.1"/>
<text x="674.55" y="532.7" font-size="9.6" text-anchor="middle" fill="#1a1a1a">15</text>
<line x1="470.0" y1="542.5" x2="536.2" y2="542.5" stroke="#111" stroke-width="1.2"/>
<line x1="566.8" y1="542.5" x2="675.4000000000001" y2="542.5" stroke="#111" stroke-width="1.2"/>
<polyline points="474.10,538.70 469.20,542.50 474.10,546.30" fill="none" stroke="#111" stroke-width="1.2" stroke-linejoin="round"/>
<polyline points="671.30,538.70 676.20,542.50 671.30,546.30" fill="none" stroke="#111" stroke-width="1.2" stroke-linejoin="round"/>
<text x="552.0" y="545.9" font-size="9.6" text-anchor="middle" fill="#1a1a1a">blunt</text>
<text x="474.4" y="559.6" font-size="9.2" fill="#1a1a1a">microhomology</text>
<text x="647.9" y="559.6" font-size="9.2" text-anchor="end" fill="#1a1a1a">insertion (bp)</text>
<line x1="480.7" y1="367.7" x2="497.0" y2="367.7" stroke="#3d85c6" stroke-width="1.6"/>
<text x="503.6" y="370.3" font-size="7.8" font-weight="bold" font-family="Liberation Mono" fill="#262626" letter-spacing="0.42" xml:space="preserve">KO –     NVB –  ART – (4159 SVs)</text>
<line x1="480.7" y1="378.1" x2="497.0" y2="378.1" stroke="#f5882c" stroke-width="1.6"/>
<text x="503.6" y="380.70000000000005" font-size="7.8" font-weight="bold" font-family="Liberation Mono" fill="#262626" letter-spacing="0.42" xml:space="preserve">KO –     NVB –  ART + (789 SVs)</text>
<line x1="480.7" y1="388.5" x2="497.0" y2="388.5" stroke="#3bb44a" stroke-width="1.6"/>
<text x="503.6" y="391.1" font-size="7.8" font-weight="bold" font-family="Liberation Mono" fill="#262626" letter-spacing="0.42" xml:space="preserve">KO –     NVB +  ART – (255 SVs)</text>
<line x1="480.7" y1="398.3" x2="497.0" y2="398.3" stroke="#f42626" stroke-width="1.6"/>
<text x="503.6" y="400.90000000000003" font-size="7.8" font-weight="bold" font-family="Liberation Mono" fill="#262626" letter-spacing="0.42" xml:space="preserve">KO POLQ  NVB –  ART – (106 SVs)</text>
<text x="24.9" y="605.2" font-size="15.5" fill="#1a1a1a">J</text>
<text x="56.6" y="581.0" font-size="11.4" fill="#1a1a1a">all cell lines, APH induced deletion, async+M</text>
<rect x="69.4" y="629.9" width="200.3" height="133.5" fill="none" stroke="#222" stroke-width="1.2"/>
<line x1="63.3" y1="748.1" x2="69.4" y2="748.1" stroke="#222" stroke-width="1.1"/>
<line x1="63.3" y1="726.6" x2="69.4" y2="726.6" stroke="#222" stroke-width="1.1"/>
<line x1="63.3" y1="705.1" x2="69.4" y2="705.1" stroke="#222" stroke-width="1.1"/>
<line x1="63.3" y1="683.6" x2="69.4" y2="683.6" stroke="#222" stroke-width="1.1"/>
<line x1="63.3" y1="662.1" x2="69.4" y2="662.1" stroke="#222" stroke-width="1.1"/>
<line x1="63.3" y1="640.6" x2="69.4" y2="640.6" stroke="#222" stroke-width="1.1"/>
<text x="56.0" y="748.1" font-size="10.0" text-anchor="middle" fill="#1a1a1a" transform="rotate(-90 56.0 748.1)">1.8</text>
<text x="56.0" y="705.1" font-size="10.0" text-anchor="middle" fill="#1a1a1a" transform="rotate(-90 56.0 705.1)">2.2</text>
<text x="56.0" y="662.1" font-size="10.0" text-anchor="middle" fill="#1a1a1a" transform="rotate(-90 56.0 662.1)">2.6</text>
<line x1="77.2" y1="763.4" x2="77.2" y2="769" stroke="#222" stroke-width="1.1"/>
<text x="77.2" y="785.2" font-size="9.6" text-anchor="middle" fill="#1a1a1a">0</text>
<line x1="107.7" y1="763.4" x2="107.7" y2="769" stroke="#222" stroke-width="1.1"/>
<text x="107.7" y="785.2" font-size="9.6" text-anchor="middle" fill="#1a1a1a">5</text>
<line x1="138.2" y1="763.4" x2="138.2" y2="769" stroke="#222" stroke-width="1.1"/>
<text x="138.2" y="785.2" font-size="9.6" text-anchor="middle" fill="#1a1a1a">10</text>
<line x1="168.7" y1="763.4" x2="168.7" y2="769" stroke="#222" stroke-width="1.1"/>
<text x="168.7" y="785.2" font-size="9.6" text-anchor="middle" fill="#1a1a1a">15</text>
<line x1="199.2" y1="763.4" x2="199.2" y2="769" stroke="#222" stroke-width="1.1"/>
<text x="199.2" y="785.2" font-size="9.6" text-anchor="middle" fill="#1a1a1a">20</text>
<line x1="229.7" y1="763.4" x2="229.7" y2="769" stroke="#222" stroke-width="1.1"/>
<text x="229.7" y="785.2" font-size="9.6" text-anchor="middle" fill="#1a1a1a">25</text>
<line x1="260.2" y1="763.4" x2="260.2" y2="769" stroke="#222" stroke-width="1.1"/>
<text x="260.2" y="785.2" font-size="9.6" text-anchor="middle" fill="#1a1a1a">30</text>
<text x="169.6" y="809.0" font-size="9.9" text-anchor="middle" fill="#1a1a1a">Percent Insertions</text>
<text x="32.4" y="696.7" font-size="10.0" text-anchor="middle" fill="#1a1a1a" transform="rotate(-90 32.4 696.7)">Avg. Microhomology (bp)</text>
<circle cx="154.1" cy="660.0" r="2.7" fill="#3d85c6"/>
<circle cx="143.1" cy="722.3" r="2.7" fill="#3d85c6"/>
<circle cx="156.2" cy="711.5" r="2.7" fill="#3d85c6"/>
<circle cx="167.5" cy="699.7" r="2.7" fill="#3d85c6"/>
<circle cx="174.2" cy="700.8" r="2.7" fill="#3d85c6"/>
<circle cx="178.5" cy="684.7" r="2.7" fill="#3d85c6"/>
<circle cx="184.6" cy="684.7" r="2.7" fill="#3d85c6"/>
<circle cx="222.4" cy="660.0" r="2.7" fill="#3d85c6"/>
<circle cx="192.5" cy="663.2" r="2.7" fill="#3d85c6"/>
<circle cx="197.4" cy="665.3" r="2.7" fill="#3d85c6"/>
<circle cx="237.6" cy="666.4" r="2.7" fill="#3d85c6"/>
<circle cx="247.4" cy="665.3" r="2.7" fill="#3d85c6"/>
<circle cx="192.5" cy="672.9" r="2.7" fill="#3d85c6"/>
<circle cx="197.4" cy="672.9" r="2.7" fill="#3d85c6"/>
<circle cx="192.5" cy="678.2" r="2.7" fill="#3d85c6"/>
<circle cx="220.6" cy="678.2" r="2.7" fill="#3d85c6"/>
<circle cx="216.3" cy="682.5" r="2.7" fill="#3d85c6"/>
<circle cx="214.4" cy="684.7" r="2.7" fill="#3d85c6"/>
<circle cx="207.7" cy="686.8" r="2.7" fill="#3d85c6"/>
<circle cx="200.4" cy="693.3" r="2.7" fill="#3d85c6"/>
<circle cx="210.8" cy="693.3" r="2.7" fill="#3d85c6"/>
<circle cx="212.9" cy="696.5" r="2.7" fill="#3d85c6"/>
<circle cx="204.7" cy="698.7" r="2.7" fill="#3d85c6"/>
<circle cx="204.7" cy="704.0" r="2.7" fill="#3d85c6"/>
<circle cx="224.8" cy="693.3" r="2.7" fill="#3d85c6"/>
<circle cx="209.9" cy="675.0" r="2.7" fill="#f5882c"/>
<circle cx="250.4" cy="682.5" r="2.7" fill="#f5882c"/>
<circle cx="262.6" cy="689.0" r="2.7" fill="#f5882c"/>
<circle cx="221.8" cy="695.4" r="2.7" fill="#f5882c"/>
<circle cx="258.4" cy="725.5" r="2.7" fill="#f5882c"/>
<circle cx="249.8" cy="734.1" r="2.7" fill="#f5882c"/>
<circle cx="191.0" cy="750.2" r="2.7" fill="#f5882c"/>
<circle cx="193.7" cy="635.2" r="2.7" fill="#3bb44a"/>
<circle cx="214.4" cy="719.1" r="2.7" fill="#3bb44a"/>
<circle cx="77.2" cy="732.0" r="2.7" fill="#f42626"/>
<circle cx="81.5" cy="739.5" r="2.7" fill="#f42626"/>
<circle cx="89.8" cy="708.3" r="2.7" fill="#f42626"/>
<circle cx="93.1" cy="739.5" r="2.7" fill="#f42626"/>
<circle cx="96.1" cy="752.4" r="2.7" fill="#f42626"/>
<circle cx="98.5" cy="685.8" r="2.7" fill="#f42626"/>
<circle cx="99.2" cy="740.6" r="2.7" fill="#f42626"/>
<circle cx="102.0" cy="741.6" r="2.7" fill="#f42626"/>
<circle cx="113.8" cy="758.9" r="2.7" fill="#f42626"/>
<circle cx="118.8" cy="591.4" r="2.8" fill="#3d85c6"/>
<circle cx="118.8" cy="602.0" r="2.8" fill="#f5882c"/>
<circle cx="118.8" cy="611.9" r="2.8" fill="#3bb44a"/>
<circle cx="118.8" cy="621.9" r="2.8" fill="#f42626"/>
<text x="126.9" y="594.8" font-size="8.5" font-weight="bold" fill="#1a1a1a">KO –</text>
<text x="158.8" y="594.8" font-size="8.5" font-weight="bold" fill="#1a1a1a">NVB –</text>
<text x="187.8" y="594.8" font-size="8.5" font-weight="bold" fill="#1a1a1a">ART –</text>
<text x="126.9" y="605.4" font-size="8.5" font-weight="bold" fill="#1a1a1a">KO –</text>
<text x="158.8" y="605.4" font-size="8.5" font-weight="bold" fill="#1a1a1a">NVB –</text>
<text x="187.8" y="605.4" font-size="8.5" font-weight="bold" fill="#1a1a1a">ART +</text>
<text x="126.9" y="615.3" font-size="8.5" font-weight="bold" fill="#1a1a1a">KO –</text>
<text x="158.8" y="615.3" font-size="8.5" font-weight="bold" fill="#1a1a1a">NVB +</text>
<text x="187.8" y="615.3" font-size="8.5" font-weight="bold" fill="#1a1a1a">ART –</text>
<text x="126.9" y="625.3" font-size="8.5" font-weight="bold" fill="#1a1a1a">KO POLQ</text>
<text x="170.5" y="625.3" font-size="8.5" font-weight="bold" fill="#1a1a1a">NVB –</text>
<text x="199.8" y="625.3" font-size="8.5" font-weight="bold" fill="#1a1a1a">ART –</text>
<text x="154.3" y="675.0" font-size="9.3" text-anchor="middle" fill="#1a1a1a">POLQ</text>
<text x="154.5" y="685.6" font-size="9.3" text-anchor="middle" fill="#1a1a1a">proficient</text>
<text x="250.1" y="703.0" font-size="9.3" text-anchor="middle" fill="#1a1a1a">POLQ</text>
<text x="250.5" y="714.3" font-size="9.3" text-anchor="middle" fill="#1a1a1a">inhibitor</text>
<text x="86.0" y="727.2" font-size="10" fill="#1a1a1a">POLQ<tspan font-size="6.5" dy="-4">-/-</tspan></text>
<text x="307.0" y="605.3" font-size="15.5" fill="#1a1a1a">K</text>
<line x1="400.3" y1="622.8" x2="593" y2="622.8" stroke="#111" stroke-width="1.2"/>
<polyline points="587.50,618.60 593.40,622.80 587.50,627.00" fill="none" stroke="#111" stroke-width="1.2" stroke-linejoin="round"/>
<line x1="420.5" y1="618.3" x2="420.5" y2="627.9" stroke="#111" stroke-width="1.2"/>
<line x1="522.4" y1="618.3" x2="522.4" y2="627.9" stroke="#111" stroke-width="1.2"/>
<line x1="578.4" y1="618.3" x2="578.4" y2="627.9" stroke="#111" stroke-width="1.2"/>
<text x="420.3" y="603.3" font-size="9.4" text-anchor="middle" fill="#1a1a1a">clonal</text>
<text x="420.3" y="614.3" font-size="9.4" text-anchor="middle" fill="#1a1a1a">restriction</text>
<text x="471.6" y="603.3" font-size="9.4" text-anchor="middle" fill="#1a1a1a">cell</text>
<text x="471.6" y="614.3" font-size="9.4" text-anchor="middle" fill="#1a1a1a">expansion</text>
<text x="522.4" y="603.3" font-size="9.4" text-anchor="middle" fill="#1a1a1a">experiment</text>
<text x="522.0" y="614.3" font-size="9.4" text-anchor="middle" fill="#1a1a1a">start</text>
<text x="575.8" y="611.8" font-size="9.0" text-anchor="middle" fill="#1a1a1a">svCapture</text>
<circle cx="590.3" cy="559.3" r="0.6" fill="#999"/>
<text x="529.8" y="635.5" font-size="9.4" text-anchor="middle" fill="#1a1a1a">G1</text>
<text x="543.9" y="635.5" font-size="9.4" text-anchor="middle" fill="#1a1a1a">S</text>
<text x="557.5" y="635.5" font-size="9.4" text-anchor="middle" fill="#1a1a1a">G2</text>
<text x="572.5" y="635.5" font-size="9.4" text-anchor="middle" fill="#1a1a1a">M</text>
<line x1="522.4" y1="643.7" x2="578.4" y2="643.7" stroke="#3d85c6" stroke-width="1.9"/>
<line x1="420.5" y1="658.8" x2="578.4" y2="658.8" stroke="#2e7d3a" stroke-width="1.9"/>
<line x1="522.4" y1="674.0" x2="578.4" y2="674.0" stroke="#2e7d3a" stroke-width="1.9"/>
<line x1="563.4" y1="689.4" x2="578.4" y2="689.4" stroke="#2e7d3a" stroke-width="1.9"/>
<line x1="420.5" y1="704.8" x2="578.4" y2="704.8" stroke="#f15a24" stroke-width="1.9"/>
<line x1="522.4" y1="720.1" x2="562.0" y2="720.1" stroke="#e3232c" stroke-width="1.7" stroke-dasharray="1.3,1.3"/>
<line x1="562.0" y1="720.1" x2="578.4" y2="720.1" stroke="#e3232c" stroke-width="1.9"/>
<text x="410.8" y="646.1" font-size="9.9" text-anchor="end" fill="#1a1a1a">replication stress</text>
<text x="410.8" y="661.5" font-size="9.9" text-anchor="end" fill="#1a1a1a">POLQ CRISPR knockout</text>
<text x="410.8" y="676.6" font-size="9.9" text-anchor="end" fill="#1a1a1a">POLQ inhibition, async</text>
<text x="410.8" y="692.1" font-size="9.9" text-anchor="end" fill="#1a1a1a">POLQ inhibition, release</text>
<text x="410.8" y="707.0" font-size="9.9" text-anchor="end" fill="#1a1a1a">background SVs</text>
<text x="410.8" y="722.4" font-size="9.9" text-anchor="end" fill="#1a1a1a">induced SVs</text>
<rect x="643.1" y="631.2" width="10.3" height="40.8" fill="#e3232c"/>
<rect x="643.1" y="672" width="10.3" height="10.4" fill="#f15a24"/>
<rect x="663.7" y="657" width="10.3" height="15" fill="#e3232c"/>
<rect x="663.7" y="672" width="10.3" height="10.4" fill="#f15a24"/>
<line x1="633" y1="631.9" x2="633" y2="682.6" stroke="#111" stroke-width="1.3"/>
<line x1="632.4" y1="682.6" x2="683.8" y2="682.6" stroke="#111" stroke-width="1.3"/>
<text x="622.2" y="656.0" font-size="9.9" text-anchor="middle" fill="#1a1a1a" transform="rotate(-90 622.2 656.0)">SV frequency</text>
<text x="648.8" y="692.8" font-size="9.6" text-anchor="end" fill="#1a1a1a" transform="rotate(-45 648.8 692.8)">uninhibited</text>
<text x="674.4" y="692.8" font-size="9.6" text-anchor="end" fill="#1a1a1a" transform="rotate(-45 674.4 692.8)">inhibited</text>
<text x="556.5" y="741.0" font-size="9.3" text-anchor="middle" font-style="italic" fill="#1a1a1a">greater fraction of detected SVs are</text>
<text x="556.5" y="751.8" font-size="9.3" text-anchor="middle" font-style="italic" fill="#1a1a1a">background events when repair is inhibited</text>
<text x="556.5" y="771.6" font-size="9.3" text-anchor="middle" font-style="italic" fill="#1a1a1a">background SVs arise in different repair</text>
<text x="556.5" y="782.4" font-size="9.3" text-anchor="middle" font-style="italic" fill="#1a1a1a">states in different paradigms</text>
</svg></body></html>
